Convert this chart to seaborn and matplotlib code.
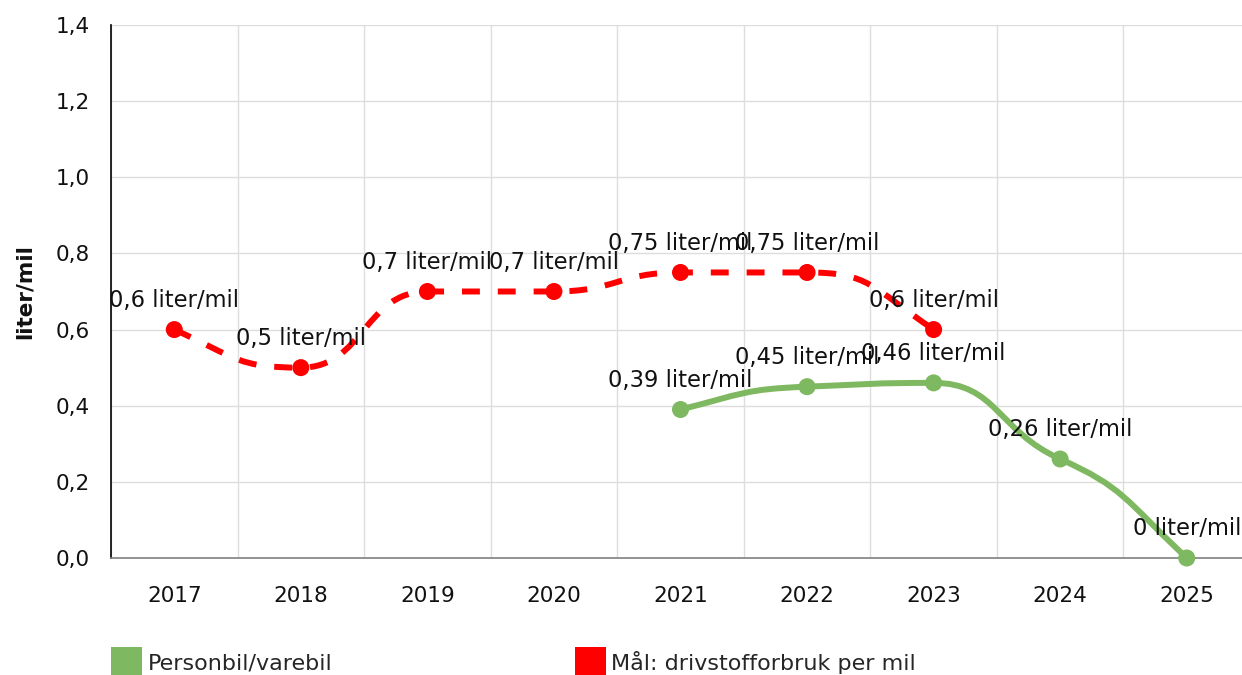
import pandas as pd
import seaborn as sns
import matplotlib.pyplot as plt
from matplotlib.path import Path
from matplotlib.patches import PathPatch, Patch
from matplotlib.ticker import FuncFormatter, MultipleLocator

# data
years = [2017, 2018, 2019, 2020, 2021, 2022, 2023, 2024, 2025]
goal_years = [2017, 2018, 2019, 2020, 2021, 2022, 2023]
goal_values = [0.6, 0.5, 0.7, 0.7, 0.75, 0.75, 0.6]
car_years = [2021, 2022, 2023, 2024, 2025]
car_values = [0.39, 0.45, 0.46, 0.26, 0.0]

GREEN = '#7eb860'
RED = '#ff0000'
FS_TICK = 15.5
FS_LABEL = 16.3
FS_LEGEND = 16


def sign(v):
    return (v > 0) - (v < 0)


def smooth_path(xs, ys, tension=0.65, handle=0.5):
    # monotone bezier through the points (no overshoot between flat points)
    n = len(xs)
    slopes = [(ys[i + 1] - ys[i]) / (xs[i + 1] - xs[i]) for i in range(n - 1)]
    tang = [0.0] * n
    for i in range(1, n - 1):
        h0 = xs[i] - xs[i - 1]
        h1 = xs[i + 1] - xs[i]
        s0, s1 = slopes[i - 1], slopes[i]
        p = (s0 * h1 + s1 * h0) / (h0 + h1)
        tang[i] = tension * (sign(s0) + sign(s1)) * min(abs(s0), abs(s1), 0.5 * abs(p))
    tang[0] = (3 * slopes[0] - tang[1]) / 2
    tang[-1] = (3 * slopes[-1] - tang[-2]) / 2
    verts = [(xs[0], ys[0])]
    codes = [Path.MOVETO]
    for i in range(n - 1):
        d = (xs[i + 1] - xs[i]) * handle
        verts += [(xs[i] + d, ys[i] + d * tang[i]),
                  (xs[i + 1] - d, ys[i + 1] - d * tang[i + 1]),
                  (xs[i + 1], ys[i + 1])]
        codes += [Path.CURVE4] * 3
    return Path(verts, codes)


def fmt_label(v):
    return f"{v:g}".replace('.', ',') + " liter/mil"


goal_df = pd.DataFrame({'year': goal_years, 'value': goal_values})
car_df = pd.DataFrame({'year': car_years, 'value': car_values})

sns.set_style("white")
plt.rcParams['font.family'] = ['DejaVu Sans']

fig = plt.figure(figsize=(12.42, 6.75), dpi=100)
ax = fig.add_axes([111 / 1242, 1 - 558 / 675, 1139 / 1242, 533 / 675])

# curves
ax.add_patch(PathPatch(smooth_path(car_years, car_values), facecolor='none',
                       edgecolor=GREEN, lw=4.3, zorder=3, clip_on=False))
ax.add_patch(PathPatch(smooth_path(goal_years, goal_values), facecolor='none',
                       edgecolor=RED, lw=4.3, linestyle=(0, (3.0, 3.0)),
                       capstyle='butt', zorder=3, clip_on=False))

sns.scatterplot(ax=ax, data=car_df, x='year', y='value', color=GREEN, s=150,
                edgecolor='none', zorder=4, clip_on=False, legend=False)
sns.scatterplot(ax=ax, data=goal_df, x='year', y='value', color=RED, s=150,
                edgecolor='none', zorder=4, clip_on=False, legend=False)

for df in (goal_df, car_df):
    for x, v in zip(df['year'], df['value']):
        ax.annotate(fmt_label(v), (x, v), xytext=(0, 21), textcoords='offset points',
                    ha='center', va='center', fontsize=FS_LABEL, color='#111111', zorder=5)

ax.set_xlim(2016.5, 2025.5)
ax.set_ylim(0, 1.4)
ax.set_xticks(years)
ax.set_xticklabels([str(y) for y in years])
ax.xaxis.set_minor_locator(MultipleLocator(1, offset=0.5))
ax.yaxis.set_major_locator(MultipleLocator(0.2))
ax.yaxis.set_major_formatter(FuncFormatter(lambda v, p: f"{v:.1f}".replace('.', ',')))

ax.grid(False)
ax.grid(True, which='major', axis='y', color='#dddddd', lw=1)
ax.grid(True, which='minor', axis='x', color='#dddddd', lw=1)

for s in ('top', 'right'):
    ax.spines[s].set_visible(False)
ax.spines['left'].set_color('#000000')
ax.spines['left'].set_linewidth(1.2)
ax.spines['bottom'].set_color('#808080')
ax.spines['bottom'].set_linewidth(1.2)

ax.tick_params(axis='x', which='major', direction='out', length=6, width=1,
               color='#808080', pad=14, labelsize=FS_TICK, labelcolor='#111111')
ax.tick_params(axis='x', which='minor', length=0)
ax.tick_params(axis='y', direction='out', length=7, width=1.2, color='#000000',
               pad=8, labelsize=FS_TICK, labelcolor='#111111')

ax.set_xlabel('')
ax.set_ylabel('liter/mil', fontsize=FS_TICK, fontweight='bold', color='#111111')
ax.yaxis.set_label_coords(-(111 - 35) / 1139, 0.5)

handles = [Patch(facecolor=GREEN, edgecolor='none', label='Personbil/varebil'),
           Patch(facecolor=RED, edgecolor='none', label='Mål: drivstofforbruk per mil')]
fig.legend(handles=handles, loc='upper left', bbox_to_anchor=(111 / 1242, 1 - 647 / 675),
           ncol=2, frameon=False, fontsize=FS_LEGEND, handlelength=1.40, handleheight=1.77,
           handletextpad=0.25, columnspacing=10.9, borderpad=0, borderaxespad=0)

fig.savefig('out.png', dpi=100)
